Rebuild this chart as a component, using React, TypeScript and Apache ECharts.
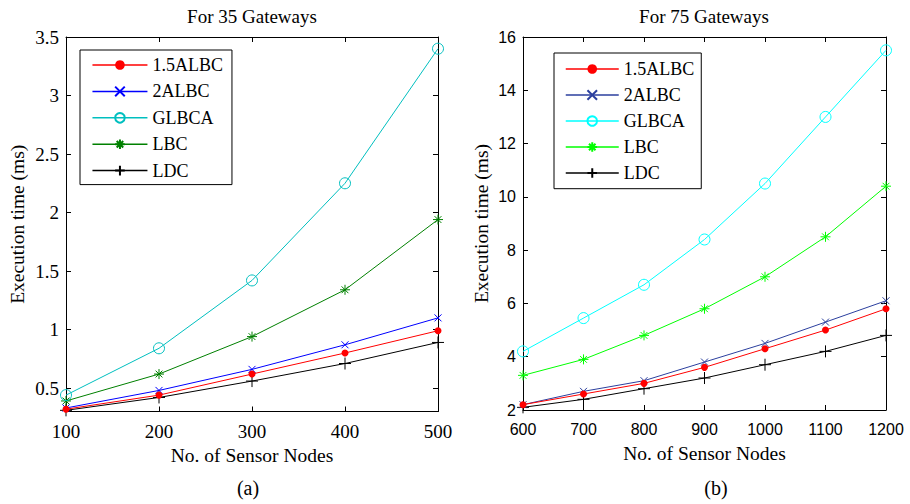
import React, { useEffect, useRef } from "react";
import * as echarts from "echarts";

const leftNodes = [100, 200, 300, 400, 500];
const rightNodes = [600, 700, 800, 900, 1000, 1100, 1200];

const seriesNames = ["1.5ALBC", "2ALBC", "GLBCA", "LBC", "LDC"];

// For 35 Gateways
const left15ALBC = [0.32, 0.44, 0.62, 0.8, 0.99];
const left2ALBC = [0.33, 0.48, 0.66, 0.87, 1.1];
const leftGLBCA = [0.44, 0.84, 1.42, 2.25, 3.4];
const leftLBC = [0.39, 0.62, 0.94, 1.34, 1.94];
const leftLDC = [0.31, 0.42, 0.56, 0.71, 0.89];

// For 75 Gateways
const right15ALBC = [2.2, 2.6, 3.0, 3.6, 4.3, 5.0, 5.8];
const right2ALBC = [2.2, 2.7, 3.1, 3.8, 4.5, 5.3, 6.1];
const rightGLBCA = [4.2, 5.45, 6.7, 8.4, 10.5, 13.0, 15.5];
const rightLBC = [3.3, 3.9, 4.8, 5.8, 7.0, 8.5, 10.4];
const rightLDC = [2.1, 2.4, 2.8, 3.2, 3.7, 4.2, 4.8];

const leftYTicks = [0.5, 1, 1.5, 2, 2.5, 3, 3.5];

const leftColors = ["#ff0000", "#0000ff", "#00bfbf", "#008000", "#000000"];
const rightColors = ["#ff0000", "#2b3f9e", "#00ffff", "#00ff00", "#000000"];

const SYM_X = "path://M0,0L10,10M0,10L10,0";
const SYM_STAR = "path://M5,0L5,10M0,5L10,5M1.6,1.6L8.4,8.4M1.6,8.4L8.4,1.6";
const SYM_PLUS = "path://M5,0L5,10M0,5L10,5";

const SERIF = "Liberation Serif";
const SANS = "Liberation Sans";

function makeSeries(
  name: string,
  idx: number,
  xs: number[],
  ys: number[],
  color: string,
  axisIdx: number
) {
  const base: any = {
    name,
    type: "line",
    xAxisIndex: axisIdx,
    yAxisIndex: axisIdx,
    data: xs.map((x, i) => [x, ys[i]]),
    lineStyle: { color, width: 1 },
    z: 10 - idx,
  };
  if (idx === 0) {
    base.symbol = "circle";
    base.symbolSize = 7;
    base.itemStyle = { color, borderWidth: 0 };
  } else if (idx === 1) {
    base.symbol = SYM_X;
    base.symbolSize = 7;
    base.itemStyle = { color, borderColor: color, borderWidth: 1 };
  } else if (idx === 2) {
    base.symbol = "circle";
    base.symbolSize = 11;
    base.itemStyle = { color: "rgba(0,0,0,0)", borderColor: color, borderWidth: 1 };
  } else if (idx === 3) {
    base.symbol = SYM_STAR;
    base.symbolSize = 10;
    base.itemStyle = { color, borderColor: color, borderWidth: 1 };
  } else {
    base.symbol = SYM_PLUS;
    base.symbolSize = 12;
    base.itemStyle = { color, borderColor: color, borderWidth: 1 };
  }
  return base;
}

function boxAxis(min: number, max: number, gridIndex: number, position: string, extra: any = {}) {
  return {
    type: "value",
    gridIndex,
    position,
    min,
    max,
    axisLine: { show: true, onZero: false, lineStyle: { color: "#000", width: 1 } },
    axisTick: { show: true, inside: true, length: 5, lineStyle: { color: "#000" } },
    axisLabel: { show: false },
    splitLine: { show: false },
    ...extra,
  };
}

const plainNum = (v: number) => String(v);

export default function App() {
  const ref = useRef<HTMLDivElement>(null);

  useEffect(() => {
    if (!ref.current) return;
    const chart = echarts.init(ref.current, null, { renderer: "svg" });

    const leftData = [left15ALBC, left2ALBC, leftGLBCA, leftLBC, leftLDC];
    const rightData = [right15ALBC, right2ALBC, rightGLBCA, rightLBC, rightLDC];

    const series: any[] = [];
    seriesNames.forEach((n, i) => series.push(makeSeries(n, i, leftNodes, leftData[i], leftColors[i], 0)));
    seriesNames.forEach((n, i) => series.push(makeSeries(n + "|b", i, rightNodes, rightData[i], rightColors[i], 2)));

    const serifLabel = { fontFamily: SERIF, fontSize: 19, color: "#000", formatter: plainNum };
    const sansLabel = { fontFamily: SANS, fontSize: 16, color: "#000", formatter: plainNum };
    const nameStyle = { fontFamily: SERIF, fontSize: 19.5, color: "#000" };

    const option: any = {
      animation: false,
      backgroundColor: "#fff",
      grid: [
        { left: 66, top: 37, width: 372, height: 374.5 },
        { left: 523, top: 37, width: 363, height: 373 },
      ],
      xAxis: [
        boxAxis(100, 500, 0, "bottom", {
          interval: 100,
          axisLabel: { show: true, margin: 10, ...serifLabel },
          name: "No. of Sensor Nodes",
          nameLocation: "middle",
          nameGap: 34,
          nameTextStyle: nameStyle,
        }),
        boxAxis(100, 500, 0, "top", { interval: 100 }),
        boxAxis(600, 1200, 1, "bottom", {
          interval: 100,
          axisLabel: { show: true, margin: 11, ...sansLabel },
          name: "No. of Sensor Nodes",
          nameLocation: "middle",
          nameGap: 33,
          nameTextStyle: nameStyle,
        }),
        boxAxis(600, 1200, 1, "top", { interval: 100 }),
      ],
      yAxis: [
        boxAxis(0.3, 3.5, 0, "left", {
          axisLabel: { show: true, margin: 7, customValues: leftYTicks, ...serifLabel },
          axisTick: {
            show: true,
            inside: true,
            length: 5,
            customValues: leftYTicks,
            lineStyle: { color: "#000" },
          },
          name: "Execution time (ms)",
          nameLocation: "middle",
          nameGap: 39,
          nameTextStyle: nameStyle,
        }),
        boxAxis(0.3, 3.5, 0, "right", {
          axisTick: {
            show: true,
            inside: true,
            length: 5,
            customValues: leftYTicks,
            lineStyle: { color: "#000" },
          },
        }),
        boxAxis(2, 16, 1, "left", {
          interval: 2,
          axisLabel: { show: true, margin: 7, ...sansLabel },
          name: "Execution time (ms)",
          nameLocation: "middle",
          nameGap: 32,
          nameTextStyle: nameStyle,
        }),
        boxAxis(2, 16, 1, "right", { interval: 2 }),
      ],
      legend: [
        {
          data: seriesNames,
          orient: "vertical",
          left: 80,
          top: 50,
          itemWidth: 55,
          itemHeight: 12,
          itemGap: 8.4,
          padding: [6, 9, 5, 11.7],
          borderColor: "#000",
          borderWidth: 1,
          backgroundColor: "#fff",
          lineStyle: { width: 1.5 },
          textStyle: { fontFamily: SERIF, fontSize: 18, color: "#000" },
          selectedMode: false,
        },
        {
          data: seriesNames.map((n) => n + "|b"),
          formatter: (n: string) => n.replace("|b", ""),
          orient: "vertical",
          left: 554,
          top: 53,
          itemWidth: 53,
          itemHeight: 12,
          itemGap: 8,
          padding: [7, 7, 6.7, 11],
          borderColor: "#000",
          borderWidth: 1,
          backgroundColor: "#fff",
          lineStyle: { width: 1.5 },
          textStyle: { fontFamily: SERIF, fontSize: 18, color: "#000" },
          selectedMode: false,
        },
      ],
      graphic: [
        {
          type: "text",
          x: 252,
          y: 16,
          style: {
            text: "For 35 Gateways",
            fontFamily: SERIF,
            fontSize: 19,
            fill: "#000",
            textAlign: "center",
            textVerticalAlign: "middle",
          },
        },
        {
          type: "text",
          x: 704,
          y: 16,
          style: {
            text: "For 75 Gateways",
            fontFamily: SERIF,
            fontSize: 19,
            fill: "#000",
            textAlign: "center",
            textVerticalAlign: "middle",
          },
        },
        {
          type: "text",
          x: 248,
          y: 488,
          style: {
            text: "(a)",
            fontFamily: SERIF,
            fontSize: 20,
            fill: "#000",
            textAlign: "center",
            textVerticalAlign: "middle",
          },
        },
        {
          type: "text",
          x: 716,
          y: 488,
          style: {
            text: "(b)",
            fontFamily: SERIF,
            fontSize: 20,
            fill: "#000",
            textAlign: "center",
            textVerticalAlign: "middle",
          },
        },
      ],
      series,
    };

    chart.setOption(option);
    return () => chart.dispose();
  }, []);

  return (
    <div
      ref={ref}
      style={{ position: "fixed", left: 0, top: 0, width: 910, height: 504, background: "#fff" }}
    />
  );
}
